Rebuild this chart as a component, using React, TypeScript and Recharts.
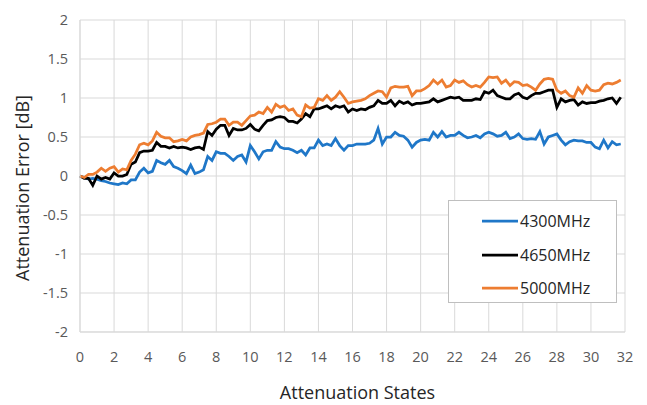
import { LineChart, Line, XAxis, YAxis, CartesianGrid, Legend, Label } from "recharts";

const STEP = 0.25;
const X_TICKS = [0, 2, 4, 6, 8, 10, 12, 14, 16, 18, 20, 22, 24, 26, 28, 30, 32];
const Y_TICKS = [-2, -1.5, -1, -0.5, 0, 0.5, 1, 1.5, 2];

// attenuation error in dB, one value per 0.25 state
const MHZ_4300 = [
  0, -0.02, -0.04, -0.03, -0.04, -0.06, -0.07, -0.09, -0.1, -0.11, -0.09, -0.1, -0.05, -0.05, 0.05, 0.1,
  0.04, 0.06, 0.2, 0.17, 0.15, 0.2, 0.12, 0.1, 0.07, 0.03,
  0.14, 0.03, 0.05, 0.08, 0.25, 0.2, 0.31, 0.29, 0.29, 0.25, 0.2, 0.25, 0.27, 0.18, 0.39, 0.31,
  0.22, 0.31, 0.33, 0.33, 0.44, 0.37, 0.35, 0.35, 0.33,
  0.3, 0.33, 0.27, 0.36, 0.36, 0.46, 0.39, 0.41, 0.39, 0.48, 0.39, 0.33, 0.39, 0.39, 0.41, 0.41,
  0.41, 0.42, 0.46, 0.61, 0.41, 0.5, 0.5, 0.56, 0.52,
  0.51, 0.46, 0.37, 0.43, 0.46, 0.47, 0.46, 0.56, 0.5, 0.57, 0.5, 0.52, 0.52, 0.56, 0.52, 0.49,
  0.5, 0.52, 0.49, 0.54, 0.56, 0.54, 0.51, 0.52, 0.56, 0.48,
  0.5, 0.54, 0.48, 0.47, 0.48, 0.47, 0.57, 0.41, 0.5, 0.52, 0.54, 0.46, 0.4, 0.44, 0.46, 0.45,
  0.45, 0.43, 0.43, 0.37, 0.35, 0.46, 0.36, 0.44, 0.4, 0.41,
];

const MHZ_4650 = [
  0, -0.03, -0.03, -0.12, 0, -0.04, -0.02, -0.04, 0.04, 0, 0, 0.02, 0.15, 0.18, 0.3, 0.32,
  0.32, 0.33, 0.43, 0.38, 0.38, 0.36, 0.38, 0.36, 0.37, 0.36,
  0.34, 0.36, 0.37, 0.34, 0.57, 0.52, 0.6, 0.65, 0.65, 0.52, 0.61, 0.59, 0.59, 0.61, 0.66, 0.6,
  0.58, 0.65, 0.71, 0.72, 0.75, 0.76, 0.75, 0.7, 0.7,
  0.68, 0.73, 0.8, 0.76, 0.86, 0.86, 0.88, 0.9, 0.86, 0.9, 0.88, 0.9, 0.82, 0.86, 0.84, 0.86,
  0.85, 0.88, 0.9, 0.97, 0.93, 0.93, 0.97, 0.9, 0.96,
  0.93, 0.95, 0.91, 0.93, 0.93, 0.94, 0.95, 0.99, 0.95, 0.97, 0.99, 1.01, 1, 1.01, 0.97, 0.97,
  0.97, 0.99, 0.98, 1.08, 1.06, 1.1, 1.03, 1.01, 0.99, 0.99,
  1.04, 1.06, 1.01, 0.99, 1.03, 1.06, 1.06, 1.08, 1.1, 1.1, 0.88, 0.99, 0.95, 0.97, 0.98, 0.91,
  0.95, 0.93, 0.94, 0.94, 0.96, 0.97, 0.99, 1, 0.93, 1.01,
];

const MHZ_5000 = [
  0, -0.02, 0.02, 0.02, 0.05, 0.1, 0.06, 0.1, 0.12, 0.05, 0.09, 0.08, 0.2, 0.28, 0.4, 0.42,
  0.4, 0.45, 0.56, 0.51, 0.49, 0.49, 0.44, 0.45, 0.47, 0.45,
  0.5, 0.52, 0.53, 0.55, 0.66, 0.67, 0.69, 0.73, 0.73, 0.65, 0.69, 0.69, 0.65, 0.71, 0.77, 0.78,
  0.82, 0.8, 0.88, 0.82, 0.92, 0.88, 0.9, 0.84, 0.86,
  0.78, 0.76, 0.91, 0.87, 0.88, 0.99, 0.97, 1.03, 0.97, 1.01, 1.08, 1.01, 0.93, 0.95, 0.96, 0.97,
  0.99, 1.03, 1.06, 1.09, 1.08, 1.01, 1.13, 1.15, 1.14,
  1.14, 1.15, 1.03, 1.09, 1.09, 1.12, 1.16, 1.23, 1.18, 1.23, 1.14, 1.16, 1.23, 1.2, 1.22, 1.17,
  1.14, 1.16, 1.14, 1.2, 1.27, 1.26, 1.27, 1.19, 1.23, 1.16,
  1.21, 1.2, 1.16, 1.17, 1.14, 1.1, 1.18, 1.24, 1.25, 1.24, 1.1, 1.06, 1.09, 1.03, 1.01, 1.13,
  1.06, 1.16, 1.1, 1.09, 1.1, 1.17, 1.19, 1.18, 1.2, 1.23,
];

const SERIES = [
  { key: "f4300", name: "4300MHz", color: "#1f77c8", values: MHZ_4300 },
  { key: "f4650", name: "4650MHz", color: "#000000", values: MHZ_4650 },
  { key: "f5000", name: "5000MHz", color: "#ed7d31", values: MHZ_5000 },
];

const data = MHZ_4300.map((_, i) => {
  const row: Record<string, number> = { x: i * STEP };
  SERIES.forEach((s) => (row[s.key] = s.values[i]));
  return row;
});

const FONT = "'Open Sans', 'Noto Sans', sans-serif";
const TICK = { fill: "#595959", fontSize: 14.5, fontFamily: FONT };

function LegendBox({ payload }: any) {
  return (
    <div
      style={{
        width: 169,
        height: 103,
        boxSizing: "border-box",
        border: "1px solid #bfbfbf",
        background: "#fff",
        position: "relative",
        fontFamily: FONT,
        fontSize: 16,
        color: "#262626",
      }}
    >
      {(payload || []).map((p: any, i: number) => (
        <div
          key={p.value}
          style={{ position: "absolute", left: 33, top: 9 + i * 33.5, height: 22, display: "flex", alignItems: "center" }}
        >
          <svg width={36} height={4} style={{ marginRight: 2 }}>
            <line x1={0} y1={2} x2={36} y2={2} stroke={p.color} strokeWidth={2.75} />
          </svg>
          <span>{p.value}</span>
        </div>
      ))}
    </div>
  );
}

export default function App() {
  return (
    <div style={{ position: "absolute", left: 0, top: 0, background: "#fff" }}>
      <LineChart width={647} height={405} data={data} margin={{ top: 20, right: 22, bottom: 43, left: 30 }}>
        <CartesianGrid stroke="#d9d9d9" strokeWidth={1} />
        <XAxis
          type="number"
          dataKey="x"
          domain={[0, 32]}
          ticks={X_TICKS}
          height={30}
          tickLine={false}
          tickSize={0}
          tickMargin={20}
          axisLine={{ stroke: "#d9d9d9" }}
          tick={TICK}
        >
          <Label
            content={({ viewBox }: any) => (
              <text
                x={viewBox.x + viewBox.width / 2 + 5}
                y={viewBox.y + 67}
                textAnchor="middle"
                fill="#262626"
                fontSize={18}
                fontFamily={FONT}
              >
                Attenuation States
              </text>
            )}
          />
        </XAxis>
        <YAxis
          type="number"
          domain={[-2, 2]}
          ticks={Y_TICKS}
          width={50}
          tickLine={false}
          tickSize={0}
          tickMargin={12}
          axisLine={{ stroke: "#d9d9d9" }}
          tick={TICK}
        >
          <Label
            content={() => (
              <text
                x={22}
                y={188}
                transform="rotate(-90 22 188)"
                textAnchor="middle"
                dominantBaseline="central"
                fill="#262626"
                fontSize={18}
                fontFamily={FONT}
              >
                Attenuation Error [dB]
              </text>
            )}
          />
        </YAxis>
        <Legend
          layout="vertical"
          align="center"
          verticalAlign="middle"
          content={<LegendBox />}
          wrapperStyle={{ left: 448, top: 200, width: 169, height: 103 }}
        />
        {SERIES.map((s) => (
          <Line
            key={s.key}
            type="linear"
            dataKey={s.key}
            name={s.name}
            stroke={s.color}
            strokeWidth={2.75}
            dot={false}
            activeDot={false}
            isAnimationActive={false}
          />
        ))}
      </LineChart>
    </div>
  );
}
